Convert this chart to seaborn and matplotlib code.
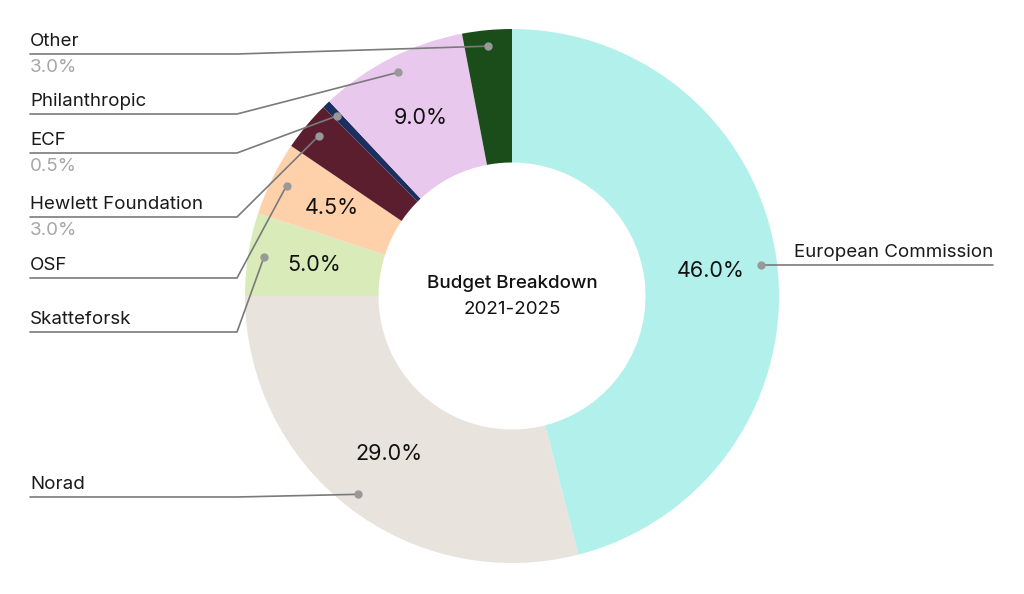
import numpy as np
import matplotlib.pyplot as plt
import seaborn as sns

# data
funders = ["European Commission", "Norad", "Skatteforsk", "OSF",
           "Hewlett Foundation", "ECF", "Philanthropic", "Other"]
shares = [46.0, 29.0, 5.0, 4.5, 3.0, 0.5, 9.0, 3.0]
colors = ["#b2f0eb", "#e8e3dc", "#d9ebb8", "#ffd1ab",
          "#5a1e2f", "#1c2f5e", "#e9c8ed", "#1b4d1b"]
# funders whose share is written under their label (too small inside)
pct_under_label = ["Other", "ECF", "Hewlett Foundation"]

W, H = 1024, 594
sns.set_theme(style="white")
plt.rcParams["font.family"] = ["Inter", "DejaVu Sans"]

fig = plt.figure(figsize=(W / 100, H / 100), dpi=100)
ax = fig.add_axes([0, 0, 1, 1])
ax.set_xlim(0, W)
ax.set_ylim(0, H)
ax.set_aspect("equal")
ax.axis("off")

cx, cy, R = 512, H - 296, 267

wedges, _, autotexts = ax.pie(
    shares, colors=colors, startangle=90, counterclock=False,
    center=(cx, cy), radius=R, pctdistance=0.75,
    autopct=lambda p: f"{p:.1f}%" if p >= 4.4 else "",
    wedgeprops=dict(width=R * 0.5, linewidth=0),
    textprops=dict(fontsize=15.5, color="#111111"),
)
ax.set_xlim(0, W)
ax.set_ylim(0, H)

ax.text(cx, cy + 12, "Budget Breakdown", ha="center", va="center",
        fontsize=13.5, fontweight="medium", color="#111111")
ax.text(cx, cy - 14, "2021-2025", ha="center", va="center",
        fontsize=13.5, color="#111111")

# label layout (underline heights in image pixels)
left_rows = {"Other": 54, "Philanthropic": 114, "ECF": 153,
             "Hewlett Foundation": 217, "OSF": 278, "Skatteforsk": 332,
             "Norad": 497}
line_col = "#7a7a7a"
x0, xj = 30, 237

for w, name, share in zip(wedges, funders, shares):
    mid = np.deg2rad((w.theta1 + w.theta2) / 2)
    dx = cx + 0.94 * R * np.cos(mid)
    dy = cy + 0.94 * R * np.sin(mid)
    ax.plot(dx, dy, "o", color="#999999", ms=5, zorder=5)
    if name in left_rows:
        yl = H - left_rows[name]
        ax.plot([x0, xj, dx], [yl, yl, dy], color=line_col, lw=1.2, zorder=4)
        ax.text(x0, yl + 4, name, ha="left", va="bottom", fontsize=13.5,
                color="#1a1a1a")
        if name in pct_under_label:
            ax.text(x0, yl - 5, f"{share:.1f}%", ha="left", va="top",
                    fontsize=13.5, color="#a6a6a6")
    else:
        yl = dy
        ax.plot([dx, 993], [yl, yl], color=line_col, lw=1.2, zorder=4)
        ax.text(993, yl + 4, name, ha="right", va="bottom", fontsize=13.5,
                color="#1a1a1a")

fig.savefig("out.png", dpi=100)
